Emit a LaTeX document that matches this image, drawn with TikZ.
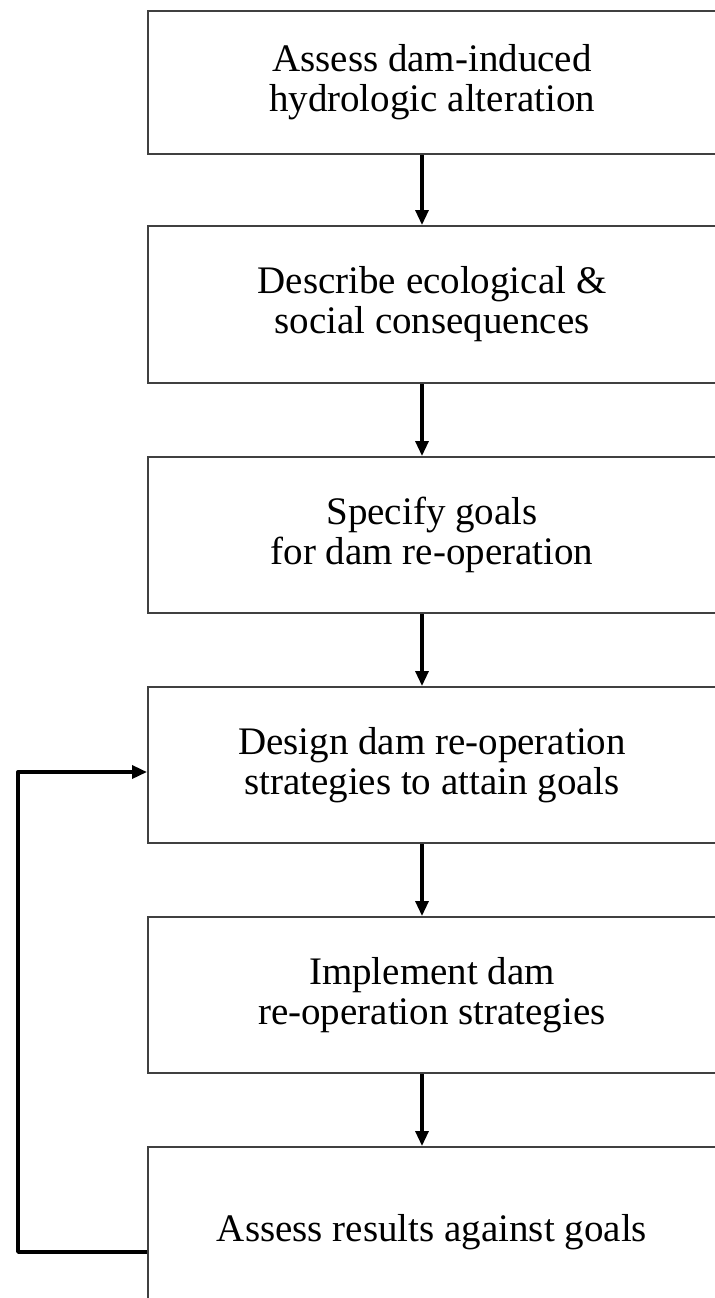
\documentclass[tikz,border=0pt]{standalone}
\usepackage{fontspec}
\setmainfont{Liberation Serif}
\usepackage{tikz}
\usetikzlibrary{arrows.meta}

\begin{document}
\begin{tikzpicture}[x=0.5pt,y=-0.5pt,
  stage/.style={draw=black!75,line width=1pt,rectangle,minimum width=284pt,
    align=center,inner sep=0pt,font=\fontsize{19.5}{20}\selectfont},
  flow/.style={black,line width=1.6pt,-{Triangle[length=7.5pt,width=6.5pt]}},
  feedback/.style={black,line width=1.7pt,line join=round,-{Triangle[length=7.5pt,width=6.5pt]}}]

\clip (0,0) rectangle (715,1298);

\node[stage,minimum height=71.5pt] (assess) at (432,82.5) {Assess dam-induced\\hydrologic alteration};
\node[stage,minimum height=78.5pt] (describe) at (432,304.5) {Describe ecological \&\\social consequences};
\node[stage,minimum height=78pt] (specify) at (432,535) {Specify goals\\for dam re-operation};
\node[stage,minimum height=78pt] (design) at (432,765) {Design dam re-operation\\strategies to attain goals};
\node[stage,minimum height=78pt] (implement) at (432,995) {Implement dam\\re-operation strategies};
\node[stage,minimum height=85pt] (results) at (432,1232) {Assess results against goals};

\coordinate (ax) at (422,0);
\coordinate (lowleft) at (18,1252);
\coordinate (upleft) at (18,772);

\draw[flow] (assess.south -| ax) -- (describe.north -| ax);
\draw[flow] (describe.south -| ax) -- (specify.north -| ax);
\draw[flow] (specify.south -| ax) -- (design.north -| ax);
\draw[flow] (design.south -| ax) -- (implement.north -| ax);
\draw[flow] (implement.south -| ax) -- (results.north -| ax);

\draw[feedback] (results.west |- lowleft) -- (lowleft) -- (upleft) -- (design.west |- upleft);

\end{tikzpicture}
\end{document}
